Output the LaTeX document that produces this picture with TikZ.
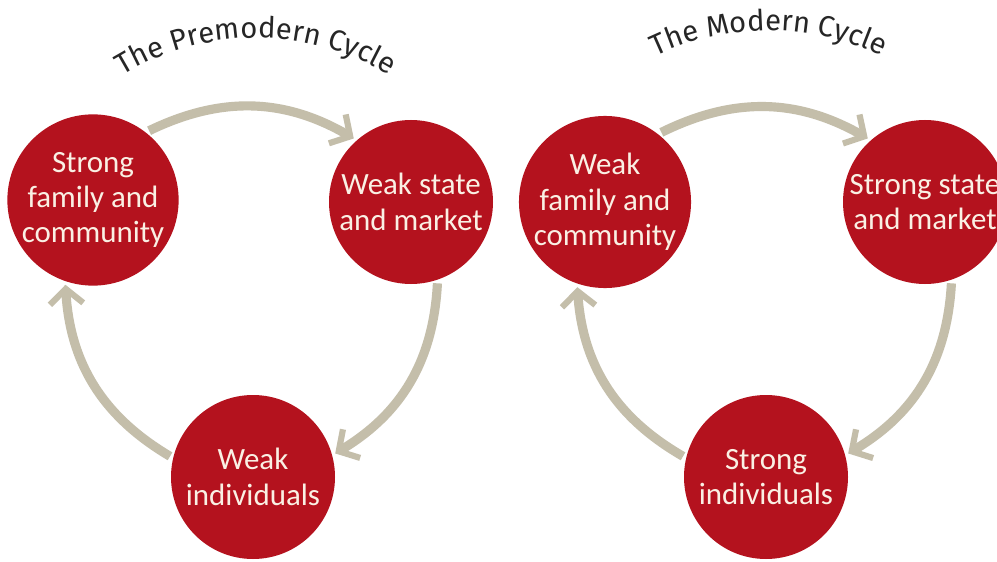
\documentclass[tikz,border=0pt]{standalone}
\usepackage{fontspec}
\setmainfont{Carlito}
\newfontfamily\titlefont{Fira Sans}
\usetikzlibrary{arrows.meta,decorations.text}
\definecolor{cyclered}{RGB}{180,18,30}
\definecolor{cyclegrey}{RGB}{196,190,170}
\definecolor{cycletext}{RGB}{250,240,228}
\tikzset{>={Straight Barb[length=8.5pt,width=19pt,line width=3.5pt]}}
\tikzset{
  stage/.style={circle,fill=cyclered,text=cycletext,minimum size=3.28cm,inner sep=0pt,outer sep=2pt,align=center,font=\fontsize{17.6}{20.1}\selectfont},
  turn/.style={->,cyclegrey,line width=5.2pt,bend left=28},
  cycletitle/.style={decorate,decoration={text along path,text align=center,text={|\titlefont\fontsize{16.6}{20}\selectfont\color{black!85}|#1}}}
}

\begin{document}
\begin{tikzpicture}
	\clip (0,0) rectangle (19.94,11.22);
	\fill[white] (0,0) rectangle (19.94,11.22);

	% premodern cycle
	\path[cycletitle={The Premodern Cycle}] (5.12,5.36) ++(125:5.1) arc[start angle=125,end angle=55,radius=5.1];
	\node[stage] (pfamily) at (1.86,7.22) {Strong\\family and\\community};
	\node[stage] (pstate) at (8.22,7.18) {Weak state\\and market};
	\node[stage] (pindiv) at (5.06,1.68) {Weak\\individuals};
	\draw[turn] (pfamily.51) to (pstate.132);
	\draw[turn] (pstate.-72) to (pindiv.16);
	\draw[turn] (pindiv.166) to (pfamily.-108);

	% modern cycle
	\path[cycletitle={The Modern Cycle}] (15.38,5.36) ++(125:5.25) arc[start angle=125,end angle=55,radius=5.25];
	\node[stage] (mfamily) at (12.10,7.18) {Weak\\family and\\community};
	\node[stage] (mstate) at (18.50,7.18) {Strong state\\and market};
	\node[stage] (mindiv) at (15.32,1.68) {Strong\\individuals};
	\draw[turn] (mfamily.51) to (mstate.132);
	\draw[turn] (mstate.-72) to (mindiv.16);
	\draw[turn] (mindiv.166) to (mfamily.-108);
\end{tikzpicture}
\end{document}
